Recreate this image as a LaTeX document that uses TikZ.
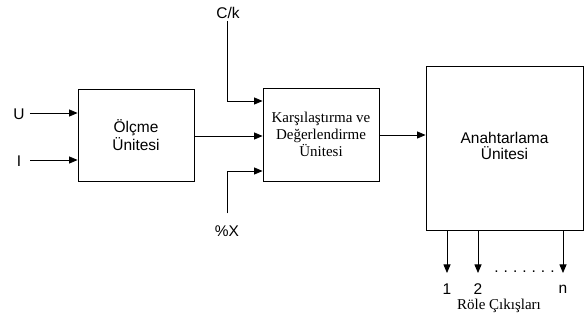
\documentclass[tikz,border=0pt]{standalone}
\usepackage{fontspec}
\setmainfont{Liberation Sans}
\newfontfamily\tms{Liberation Serif}
\usetikzlibrary{arrows.meta}
\begin{document}
\begin{tikzpicture}[x=1pt,y=-1pt,
  box/.style={draw,line width=0.8pt,inner sep=0pt,align=center},
  arr/.style={line width=0.8pt,-{Triangle[length=8.5pt,width=7pt]}},
  sans/.style={font=\fontsize{15.5}{14.5}\selectfont},
  serif/.style={font=\tms\fontsize{15}{17}\selectfont},
  lbl/.style={sans,inner sep=0pt}]
\useasboundingbox (0,0) rectangle (584,320);
\node[box,sans,minimum width=116pt,minimum height=92pt] (olc) at (136,135) {Ölçme\\Ünitesi};
\node[box,serif,minimum width=116pt,minimum height=93pt] (cmp) at (321,134.5) {Karşılaştırma ve\\Değerlendirme\\Ünitesi};
\node[box,sans,minimum width=157pt,minimum height=164pt] (an) at (504.5,148) {\raisebox{-6pt}{\begin{tabular}{@{}c@{}}Anahtarlama\\[-2pt]Ünitesi\end{tabular}}};
\node[lbl] (u) at (19,114) {U};
\node[lbl] (i) at (19,161) {I};
\draw[arr] ([xshift=5pt]u.east |- 0,113) -- (olc.west |- 0,113);
\draw[arr] ([xshift=9pt]i.east |- 0,160) -- (olc.west |- 0,160);
\draw[arr] (olc.east |- 0,136) -- (cmp.west |- 0,136);
\node[lbl] (ck) at (228,13) {C/k};
\node[lbl] (px) at (227,231) {\%X};
\draw[arr] ([yshift=-2pt]ck.south -| 227,0) |- (cmp.west |- 0,101);
\draw[arr] ([yshift=12pt]px.north -| 227,0) |- (cmp.west |- 0,171);
\draw[arr] (cmp.east |- 0,135) -- (an.west |- 0,135);
\node[lbl] (o1) at (447,289) {1};
\node[lbl] (o2) at (478,289) {2};
\node[lbl] (on) at (563,289) {n};
\coordinate (t1) at (447,273);
\coordinate (t2) at (478,273);
\coordinate (tn) at (563,273);
\draw[arr] (an.south -| t1) -- (t1);
\draw[arr] (an.south -| t2) -- (t2);
\draw[arr] (an.south -| tn) -- (tn);
\node[lbl,anchor=base] (dots) at (524.5,273) {.\hspace{5pt}.\hspace{5pt}.\hspace{5pt}.\hspace{5pt}.\hspace{5pt}.\hspace{5pt}.};
\node[serif,inner sep=0pt] (rc) at (499,306) {Röle Çıkışları};
\end{tikzpicture}
\end{document}
